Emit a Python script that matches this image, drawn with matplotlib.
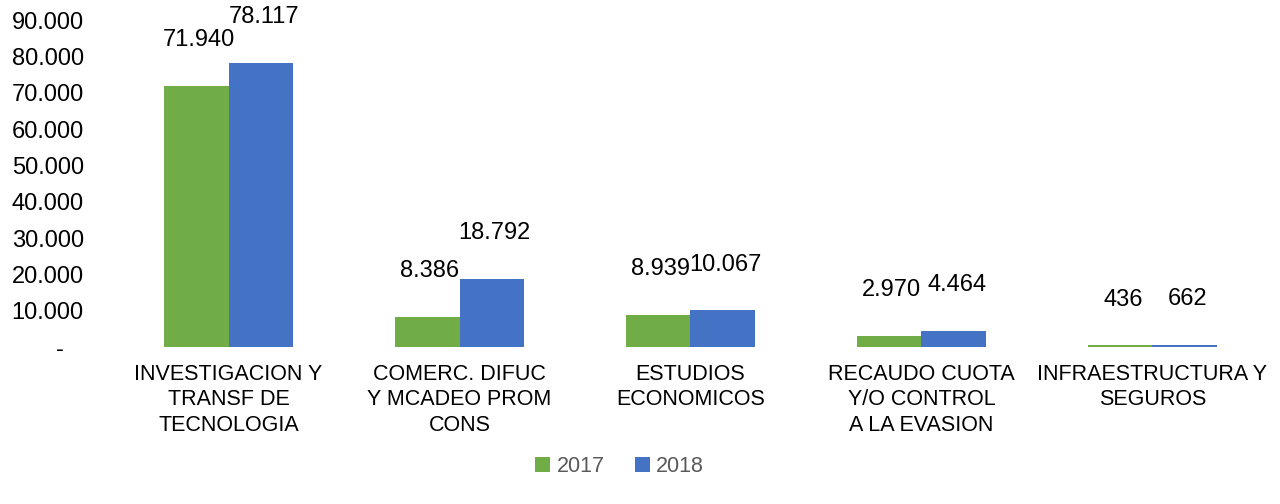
import matplotlib.pyplot as plt
import numpy as np

categories = ["INVESTIGACION Y\nTRANSF DE\nTECNOLOGIA",
              "COMERC. DIFUC\nY MCADEO PROM\nCONS",
              "ESTUDIOS\nECONOMICOS",
              "RECAUDO CUOTA\nY/O CONTROL\nA LA EVASION",
              "INFRAESTRUCTURA Y\nSEGUROS"]
vals_2017 = [71940, 8386, 8939, 2970, 436]
vals_2018 = [78117, 18792, 10067, 4464, 662]
series_names = ["2017", "2018"]
yticks = [0, 10000, 20000, 30000, 40000, 50000, 60000, 70000, 80000, 90000]

GREEN = "#70AD47"
BLUE = "#4472C4"


def fmt(v):
    if v == 0:
        return "-   "
    return f"{v:,}".replace(",", ".")


def main():
    plt.rcParams['font.family'] = ['Liberation Sans', 'DejaVu Sans']
    fig = plt.figure(figsize=(12.8, 5.04), dpi=100)
    ax = fig.add_axes([0.0883, 0.3115, 0.9023, 0.6488])

    x = np.arange(len(categories))
    w = 0.281
    b1 = ax.bar(x - w / 2, vals_2017, w, color=GREEN, label=series_names[0])
    b2 = ax.bar(x + w / 2, vals_2018, w, color=BLUE, label=series_names[1])

    for bars, vals in ((b1, vals_2017), (b2, vals_2018)):
        for rect, v in zip(bars, vals):
            ax.annotate(fmt(v), (rect.get_x() + rect.get_width() / 2, v),
                        xytext=(2, 33), textcoords="offset points",
                        ha="center", va="center", fontsize=17, color="#000000")

    ax.set_xlim(-0.5, len(categories) - 0.5)
    ax.set_ylim(0, 90000)
    ax.set_yticks(yticks)
    ax.set_yticklabels([fmt(v) for v in yticks], fontsize=17)
    ax.set_xticks(x)
    ax.set_xticklabels(categories, fontsize=15.5, linespacing=1.3)
    ax.tick_params(axis="y", length=0, pad=21)
    ax.tick_params(axis="x", length=0, pad=12)
    for s in ax.spines.values():
        s.set_visible(False)

    fig.legend(handles=[b1, b2], loc="center", bbox_to_anchor=(0.484, 0.075),
               ncol=2, frameon=False, fontsize=15.5, handlelength=0.7,
               handleheight=0.7, handletextpad=0.3, columnspacing=1.4,
               labelcolor="#595959")

    fig.savefig("out.png", dpi=100)


if __name__ == '__main__':
    main()
